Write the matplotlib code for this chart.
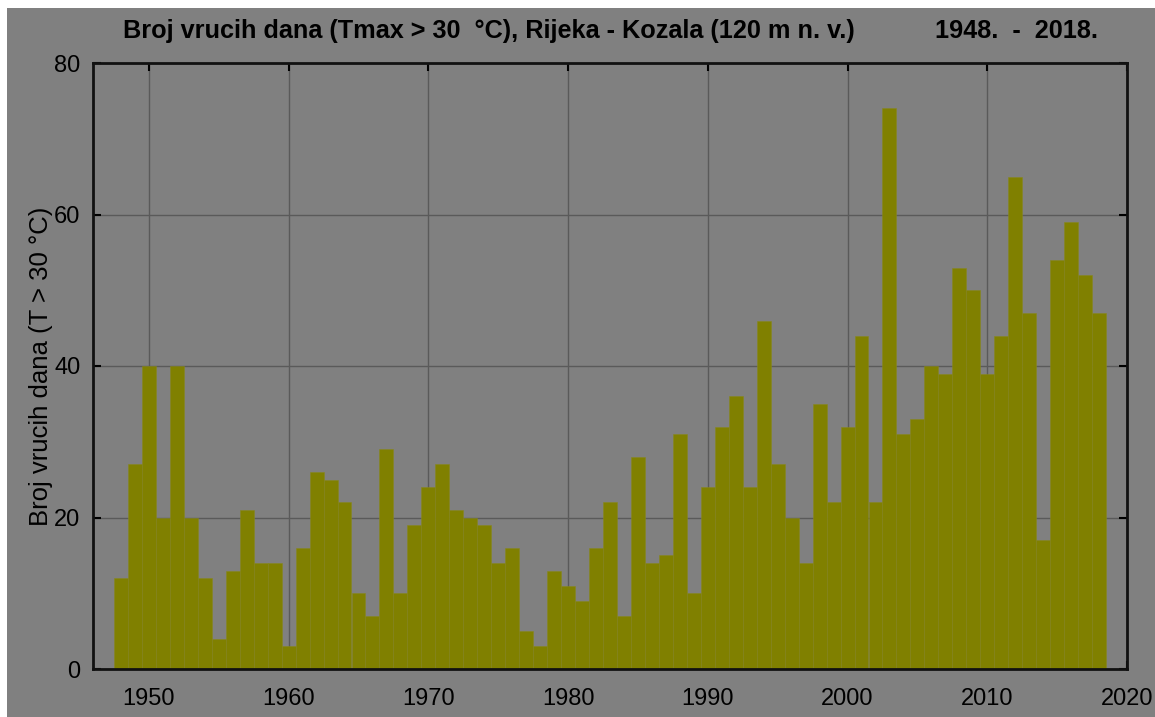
import matplotlib.pyplot as plt
from matplotlib.patches import Rectangle

plt.rcParams['font.family'] = ['Liberation Sans', 'DejaVu Sans']

# Broj vrucih dana po godinama, Rijeka - Kozala
years = list(range(1948, 2019))
hot_days = [
    12, 27, 40, 20, 40, 20, 12, 4, 13, 21,   # 1948-1957
    14, 14, 3, 16, 26, 25, 22, 10, 7, 29,    # 1958-1967
    10, 19, 24, 27, 21, 20, 19, 14, 16, 5,   # 1968-1977
    3, 13, 11, 9, 16, 22, 7, 28, 14, 15,     # 1978-1987
    31, 10, 24, 32, 36, 24, 46, 27, 20, 14,  # 1988-1997
    35, 22, 32, 44, 22, 74, 31, 33, 40, 39,  # 1998-2007
    53, 50, 39, 44, 65, 47, 17, 54, 59, 52,  # 2008-2017
    47,                                      # 2018
]
x_ticks = [1950, 1960, 1970, 1980, 1990, 2000, 2010, 2020]
y_ticks = [0, 20, 40, 60, 80]

grey = '#808080'

fig = plt.figure(figsize=(11.55, 7.17), dpi=100, facecolor='white')
# grey background with a thin white margin at top and left
bg = Rectangle((7 / 1155, 0), 1, (717 - 8) / 717, transform=fig.transFigure,
               facecolor=grey, edgecolor='none', zorder=-10)
fig.add_artist(bg)

ax = fig.add_axes([93 / 1155, 48 / 717, (1127 - 93) / 1155, (669 - 63) / 717])
ax.set_zorder(1)
ax.set_facecolor(grey)

ax.bar(years, hot_days, width=1.0, color='#808000', edgecolor='#868620',
       linewidth=0.4, zorder=2)

ax.set_xlim(1946, 2020)
ax.set_ylim(0, 80)
ax.set_xticks(x_ticks)
ax.set_yticks(y_ticks)
ax.grid(True, color='#5a5a5a', linewidth=1.0, zorder=1)
ax.set_axisbelow(True)

ax.tick_params(direction='in', length=6, width=1.5, labelsize=17,
               top=True, right=True, colors='black')
ax.tick_params(axis='x', pad=14)
ax.tick_params(axis='y', pad=9)
for s in ax.spines.values():
    s.set_linewidth(2)
    s.set_color('#111111')
    s.set_zorder(3)

ax.set_ylabel('Broj vrucih dana (T > 30 °C)', fontsize=18.5, labelpad=1)

fig.text(123 / 1155, 1 - 31 / 717,
         'Broj vrucih dana (Tmax > 30  °C), Rijeka - Kozala (120 m n. v.)',
         fontsize=18.2, fontweight='bold', ha='left', va='center', zorder=5)
fig.text(1098 / 1155, 1 - 31 / 717, '1948.  -  2018.',
         fontsize=18.2, fontweight='bold', ha='right', va='center', zorder=5)

fig.savefig('out.png', dpi=100, facecolor='white')
